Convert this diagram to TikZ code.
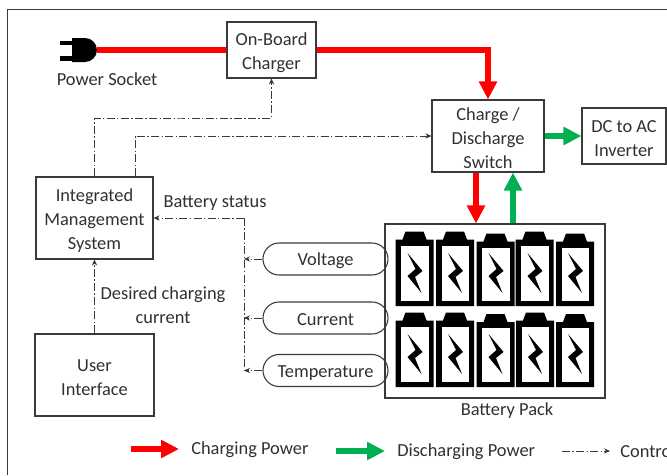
\documentclass[tikz,border=0pt]{standalone}
\usepackage{fontspec}
\setmainfont{Carlito}
\usetikzlibrary{arrows.meta,shapes.misc}
\definecolor{txt}{HTML}{303030}
\definecolor{edge}{HTML}{3A3A3A}
\definecolor{redp}{HTML}{FF0000}
\definecolor{greenp}{HTML}{00B050}
\newcommand{\firstline}{\rule{0pt}{13pt}}
\tikzset{
  lbl/.style={text=txt,font=\fontsize{13.8}{18}\selectfont,align=center,inner sep=0pt,execute at begin node={\rule{0pt}{12pt}}},
  blk/.style={lbl,draw=edge,line width=.8pt},
  pill/.style={blk,rounded rectangle,minimum width=93.75pt,minimum height=24pt},
  powerr/.style={draw=redp,line width=4pt,-{Triangle[length=13.5pt,width=13pt]}},
  powerg/.style={draw=greenp,line width=4pt,-{Triangle[length=13.5pt,width=13pt]}},
  ctrl/.style={draw=edge,line width=.7pt,dash pattern=on 6pt off 1.8pt on 1pt off 1.8pt,-{Stealth[length=4.5pt,width=4pt]}},
  ctrlplain/.style={draw=edge,line width=.7pt,dash pattern=on 6pt off 1.8pt on 1pt off 1.8pt},
}
\newcommand{\battcell}[3]{% left, terminal top, bottom
  \fill[black] (#1+10,#2) -- (#1+28,#2) -- (#1+31,#2+8) -- (#1+38,#2+8) -- (#1+38,#3) -- (#1,#3) -- (#1,#2+8) -- (#1+7,#2+8) -- cycle;
  \fill[white] (#1+5.5,#2+14) rectangle (#1+33,#3-5);
  \fill[black] (#1+12,#3-53) -- (#1+27,#3-35) -- (#1+19.5,#3-29) -- (#1+26,#3-13) -- (#1+12,#3-30) -- (#1+20,#3-37) -- cycle;
}
\begin{document}
\begin{tikzpicture}[x=0.75pt,y=-0.75pt]
\useasboundingbox (0,0) rectangle (667,475);
\clip (0,0) rectangle (667,475);
\draw[edge,line width=1pt] (7.5,475) -- (7.5,9.5) -- (667,9.5);

% boxes
\node[blk,minimum width=66.75pt,minimum height=42pt] (onboard) at (271.5,50) {\firstline On-Board\\Charger};
\node[blk,minimum width=87.75pt,minimum height=61.5pt] (ims) at (94.5,218) {\firstline Integrated\\Management\\System};
\node[blk,minimum width=89.25pt,minimum height=61.5pt] (ui) at (94.5,375) {\firstline User\\Interface};
\node[blk,minimum width=84pt,minimum height=54pt] (sw) at (488,136) {\firstline Charge /\\Discharge\\Switch};
\node[blk,minimum width=63pt,minimum height=42pt] (dc) at (624,136) {\firstline DC to AC\\Inverter};
\node[draw=edge,line width=.8pt,minimum width=165pt,minimum height=130.5pt,inner sep=0pt] (pack) at (495,311) {};
\node[pill] (volt) at (325.5,259) {Voltage};
\node[pill] (curr) at (325.5,318) {Current};
\node[pill] (temp) at (325.5,370.5) {Temperature};

% batteries
\battcell{395.5}{231.5}{306}
\battcell{436}{231.5}{306}
\battcell{476.5}{233.5}{306}
\battcell{515.5}{231.5}{306}
\battcell{556}{233.5}{306}
\battcell{395.5}{312.5}{387}
\battcell{436}{312.5}{387}
\battcell{476.5}{314}{387}
\battcell{516}{312.5}{387}
\battcell{556}{314}{387}

% plug
\node[inner sep=0pt,minimum width=0pt,minimum height=0pt] (plug) at (97,50) {};
\fill[black] (72,38) -- (85,38) arc[start angle=90,end angle=-90,radius=9pt] -- (72,62) -- cycle;
\fill[black] (60,40.5) rectangle (73,45);
\fill[black] (60,56) rectangle (73,60.5);

% power lines
\draw[redp,line width=4.5pt] (plug) -- (onboard.west);
\draw[powerr] (onboard.east) -| (sw.north);
\coordinate (rd) at ([xshift=-9pt]sw.south);
\coordinate (gu) at ([xshift=18.75pt]sw.south);
\draw[powerr] (rd) -- (rd |- pack.north);
\draw[powerg] (gu |- pack.north) -- (gu);
\draw[powerg] (sw.east |- dc.west) -- (dc.west);

% control lines
\coordinate (r1) at (180,118);
\coordinate (st) at (244,218);
\coordinate (stb) at (244,371);
\draw[ctrl] (ims.north) |- (r1) -| (onboard.south);
\draw[ctrl] ([xshift=30.4pt]ims.north) |- (sw.west);
\draw[ctrl] (st) -- (ims.east);
\draw[ctrlplain] (st) -- (stb);
\draw[ctrl] (volt.west) -- (volt.west -| st);
\draw[ctrl] (curr.west) -- (curr.west -| st);
\draw[ctrl] (temp.west) -- (temp.west -| st);
\draw[ctrl] (ui.north) -- (ims.south);

% labels
\node[lbl] (lsock) at (107,78) {Power Socket};
\node[lbl] (lstat) at (215,201) {Battery status};
\node[lbl] (ldes) at (163,303) {\firstline Desired charging\\current};
\node[lbl] (lpack) at (507,409) {Battery Pack};

% legend
\coordinate (a1) at (130.5,449); \coordinate (a2) at (179,449);
\coordinate (b1) at (336,451); \coordinate (b2) at (385,451);
\coordinate (c1) at (562,451); \coordinate (c2) at (610,451);
\draw[powerr] (a1) -- (a2);
\draw[powerg] (b1) -- (b2);
\draw[ctrl] (c1) -- (c2);
\node[lbl,anchor=west] (lc) at (191,448) {Charging Power};
\node[lbl,anchor=west] (ld) at (397,450) {Discharging Power};
\node[lbl,anchor=west] (le) at (620,450) {Control};
\end{tikzpicture}
\end{document}
